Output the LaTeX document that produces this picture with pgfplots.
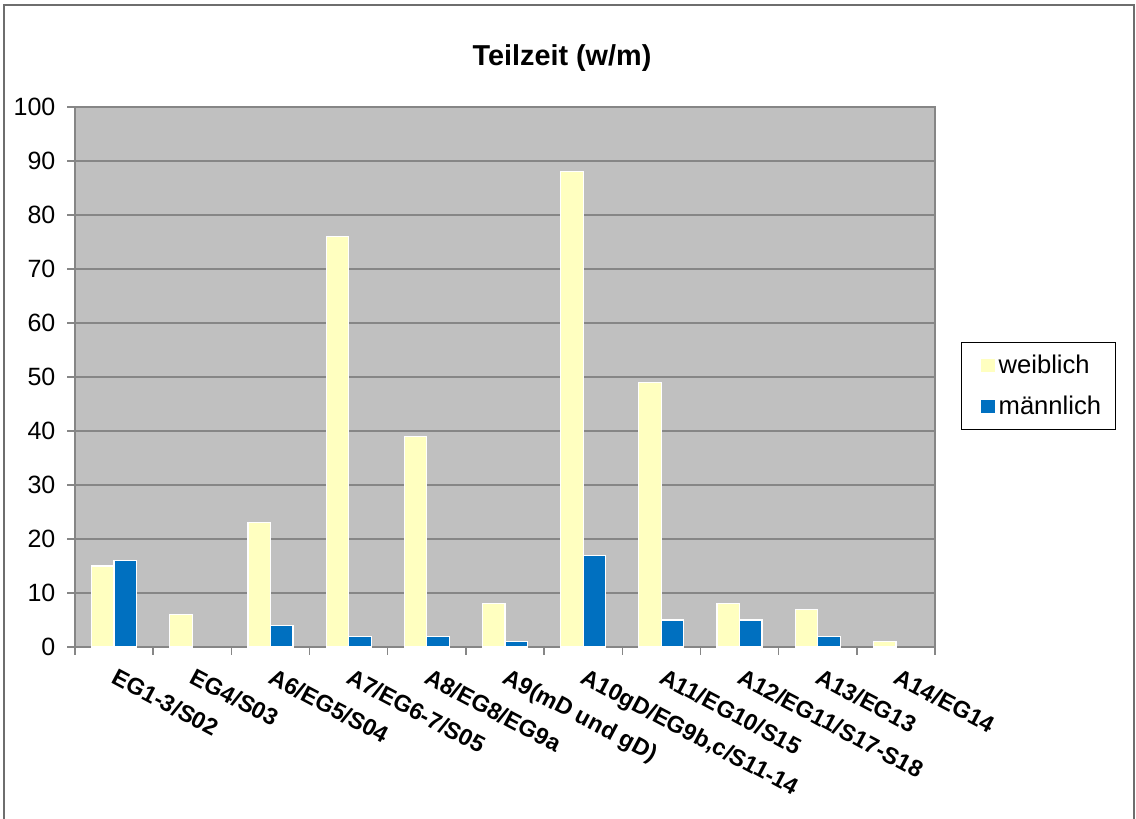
\documentclass[border=0pt]{standalone}
\usepackage{pgfplots}
\pgfplotsset{compat=1.18}
\usepackage{fontspec}
\setmainfont{Liberation Sans}
\definecolor{plotgray}{RGB}{192,192,192}
\definecolor{gridgray}{RGB}{134,134,134}
\definecolor{wyellow}{RGB}{255,255,192}
\definecolor{mblue}{RGB}{0,112,192}
\definecolor{framegray}{RGB}{110,110,110}
\begin{document}
\begin{tikzpicture}
\useasboundingbox (0,0) rectangle (568pt,-409.5pt);
\fill[white] (0,0) rectangle (568pt,-409.5pt);
\draw[framegray, line width=0.9pt] (2pt,-2.5pt) rectangle (567pt,-420pt);
\node[font=\bfseries\fontsize{14.4}{16}\selectfont] at (281pt,-29pt) {Teilzeit (w/m)};
\begin{axis}[
  at={(37.5pt,-53.5pt)}, anchor=north west,
  scale only axis, width=430pt, height=270pt,
  ymin=0, ymax=100, ytick={0,10,...,100},
  xmin=-0.5, xmax=10.5,
  xtick={-0.5,0.5,...,10.5},
  x tick label as interval,
  xticklabels={EG1-3/S02, EG4/S03, A6/EG5/S04, A7/EG6-7/S05, A8/EG8/EG9a, A9(mD und gD), {A10gD/EG9b,c/S11-14}, A11/EG10/S15, A12/EG11/S17-S18, A13/EG13, A14/EG14, {}},
  axis background/.style={fill=plotgray},
  axis line style={gridgray, line width=0.75pt},
  ymajorgrids, grid style={gridgray, line width=0.75pt},
  tick align=outside, major tick length=3.8pt,
  tick style={gridgray, line width=0.75pt},
  xtick pos=bottom, ytick pos=left,
  /pgf/number format/assume math mode=true,
  yticklabel style={font=\fontsize{12.5}{14}\selectfont, xshift=-2.5pt},
  xticklabel style={font=\bfseries\fontsize{11.7}{13}\selectfont, rotate=-28, anchor=north west, xshift=1.5pt, yshift=-1pt},
  legend style={at={(1.0302,0.5648)}, anchor=north west, draw=black, line width=0.5pt,
    font=\fontsize{12.8}{15}\selectfont, row sep=6pt, inner xsep=5pt, inner ysep=4pt},
  legend cell align=left,
  unbounded coords=discard,
]
\addplot[ybar, bar width=0.288, bar shift=-0.144, fill=wyellow, draw=white, line width=0.6pt,
  y filter/.expression={y==0 ? nan : y},
  legend image code/.code={\path (0pt,0pt); \fill[wyellow] (5pt,-3pt) rectangle (11pt,3pt);}]
  coordinates {(0,15) (1,6) (2,23) (3,76) (4,39) (5,8) (6,88) (7,49) (8,8) (9,7) (10,1)};
\addlegendentry{weiblich}
\addplot[ybar, bar width=0.288, bar shift=0.144, fill=mblue, draw=white, line width=0.6pt,
  y filter/.expression={y==0 ? nan : y},
  legend image code/.code={\path (0pt,0pt); \fill[mblue] (5pt,-3pt) rectangle (11pt,3pt);}]
  coordinates {(0,16) (1,0) (2,4) (3,2) (4,2) (5,1) (6,17) (7,5) (8,5) (9,2) (10,0)};
\addlegendentry{männlich}
\end{axis}
\end{tikzpicture}
\end{document}
